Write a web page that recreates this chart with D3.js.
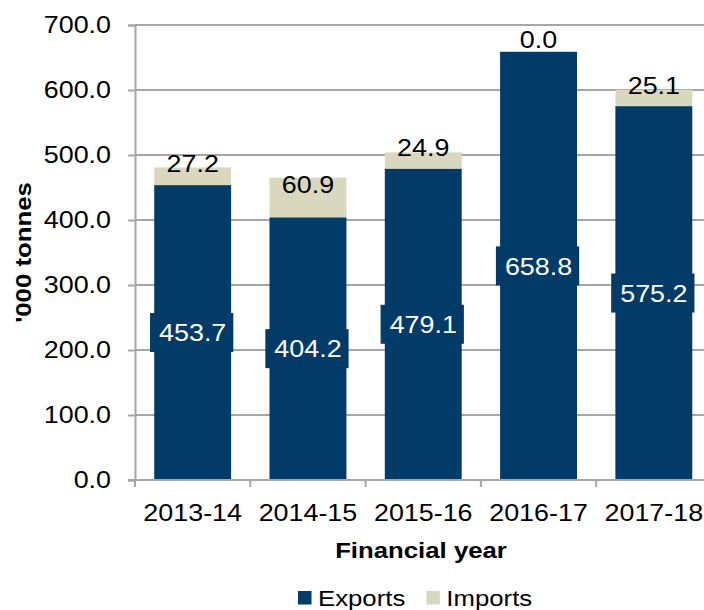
<!DOCTYPE html>
<html>
<head>
<meta charset="utf-8">
<script src="https://cdn.jsdelivr.net/npm/d3@7"></script>
<style>
  html, body { margin: 0; padding: 0; background: #fff; }
  svg { display: block; font-family: "Liberation Sans", Arial, sans-serif; }
</style>
</head>
<body>
<svg id="chart" width="704" height="610"></svg>
<script>
// Financial years and tonnage ('000 tonnes)
const years = ["2013-14", "2014-15", "2015-16", "2016-17", "2017-18"];
const exportsT = [453.7, 404.2, 479.1, 658.8, 575.2];
const importsT = [27.2, 60.9, 24.9, 0.0, 25.1];
const yTicks = [0, 100, 200, 300, 400, 500, 600, 700];
const seriesNames = ["Exports", "Imports"];

const colors = { Exports: "#023b68", Imports: "#d9d8bf" };
const gridColor = "#a6a6a6";
const FONT = "Liberation Sans, Arial, sans-serif";
const WIDE = 1.12;   // horizontal widening applied to all text

const svg = d3.select("#chart");
const plot = { left: 135, right: 711.5, top: 25, bottom: 480 };

// Move a text's x/y into a transform so it can be widened about its anchor
function widen(sel, extra = "") {
  sel.each(function () {
    const t = d3.select(this);
    const tx = +t.attr("x") || 0, ty = +t.attr("y") || 0;
    t.attr("x", null).attr("y", null)
      .attr("transform", `translate(${tx},${ty}) ${extra} scale(${WIDE},1)`);
  });
}

const x = d3.scaleBand()
  .domain(years)
  .range([plot.left, plot.right])
  .paddingInner(0.333)
  .paddingOuter(0.1667);

const y = d3.scaleLinear()
  .domain([0, 700])
  .range([plot.bottom, plot.top]);

// Gridlines
svg.append("g").selectAll("line.grid")
  .data(yTicks.filter(d => d > 0))
  .join("line")
  .attr("class", "grid")
  .attr("x1", plot.left).attr("x2", 704)
  .attr("y1", d => y(d)).attr("y2", d => y(d))
  .attr("stroke", gridColor).attr("stroke-width", 2);

// Y axis with short ticks on the left
const yAxis = d3.axisLeft(y)
  .tickValues(yTicks)
  .tickFormat(d3.format(".1f"))
  .tickSize(7)
  .tickPadding(17);

const gy = svg.append("g")
  .attr("transform", `translate(${plot.left},0)`)
  .call(yAxis);
gy.select(".domain").attr("stroke", gridColor).attr("stroke-width", 2);
gy.selectAll(".tick line").attr("stroke", gridColor).attr("stroke-width", 2);
gy.selectAll(".tick text")
  .attr("font-size", 24)
  .attr("fill", "#000")
  .attr("font-family", FONT)
  .call(widen);

// Stacked data
const rows = years.map((yr, i) => ({ year: yr, Exports: exportsT[i], Imports: importsT[i] }));
const stacked = d3.stack().keys(seriesNames)(rows);

const barsG = svg.append("g");
stacked.forEach(layer => {
  barsG.selectAll(null)
    .data(layer)
    .join("rect")
    .attr("x", d => x(d.data.year))
    .attr("width", x.bandwidth())
    .attr("y", d => y(d[1]))
    .attr("height", d => y(d[0]) - y(d[1]))
    .attr("fill", colors[layer.key]);
});

// X axis along zero
const xAxis = d3.axisBottom(x).tickSize(0).tickPadding(24);
const gx = svg.append("g")
  .attr("transform", `translate(0,${plot.bottom})`)
  .call(xAxis);
gx.select(".domain").remove();
gx.append("line")
  .attr("x1", plot.left - 7).attr("x2", 704)
  .attr("y1", 0).attr("y2", 0)
  .attr("stroke", gridColor).attr("stroke-width", 2);
const step = x.step();
gx.selectAll("line.sep")
  .data(d3.range(years.length + 1))
  .join("line")
  .attr("class", "sep")
  .attr("x1", i => plot.left + i * step).attr("x2", i => plot.left + i * step)
  .attr("y1", 0).attr("y2", 7)
  .attr("stroke", gridColor).attr("stroke-width", 2);
gx.selectAll(".tick text")
  .attr("font-size", 24)
  .attr("fill", "#000")
  .attr("font-family", FONT)
  .call(widen);

// Export value labels: white text on a navy box at the segment centre
const expLayer = stacked[0];
const expLabels = svg.append("g").selectAll("g")
  .data(expLayer)
  .join("g")
  .attr("transform", d => `translate(${x(d.data.year) + x.bandwidth() / 2},${(y(d[0]) + y(d[1])) / 2})`);
expLabels.append("rect").attr("fill", colors.Exports);
expLabels.append("text")
  .attr("text-anchor", "middle")
  .attr("dy", "0.36em")
  .attr("font-size", 24)
  .attr("fill", "#fff")
  .text(d => d3.format(".1f")(d.data.Exports));
expLabels.each(function () {
  const g = d3.select(this);
  const bb = g.select("text").node().getBBox();
  const w = bb.width * WIDE + 16;
  g.select("rect")
    .attr("x", -w / 2 - 1).attr("width", w)
    .attr("y", -19.5).attr("height", 39);
});
expLabels.selectAll("text").call(widen);

// Import value labels in black, just above the segment middle
const impLayer = stacked[1];
svg.append("g").selectAll("text")
  .data(impLayer)
  .join("text")
  .attr("x", d => x(d.data.year) + x.bandwidth() / 2)
  .attr("y", d => (y(d[0]) + y(d[1])) / 2 - 4)
  .attr("text-anchor", "middle")
  .attr("font-size", 24)
  .attr("fill", "#000")
  .text(d => d3.format(".1f")(d.data.Imports))
  .call(widen);

// Axis titles
svg.append("text")
  .attr("x", 31).attr("y", (plot.top + plot.bottom) / 2)
  .attr("text-anchor", "middle")
  .attr("font-size", 23)
  .attr("font-weight", "bold")
  .text("'000 tonnes")
  .call(widen, "rotate(-90)");

svg.append("text")
  .attr("x", 421)
  .attr("y", 557.5)
  .attr("text-anchor", "middle")
  .attr("font-size", 23)
  .attr("font-weight", "bold")
  .text("Financial year")
  .call(widen);

// Legend
const legend = svg.append("g").attr("transform", "translate(298,598)");
let lx = 0;
seriesNames.forEach(name => {
  const item = legend.append("g").attr("transform", `translate(${lx},0)`);
  item.append("rect")
    .attr("x", 0).attr("y", -7).attr("width", 13.5).attr("height", 13.5)
    .attr("fill", colors[name]);
  const t = item.append("text")
    .attr("x", 20).attr("y", 8)
    .attr("font-size", 23)
    .text(name);
  const len = t.node().getComputedTextLength() * WIDE;
  t.call(widen);
  lx += 20 + len + 21;
});
</script>
</body>
</html>
